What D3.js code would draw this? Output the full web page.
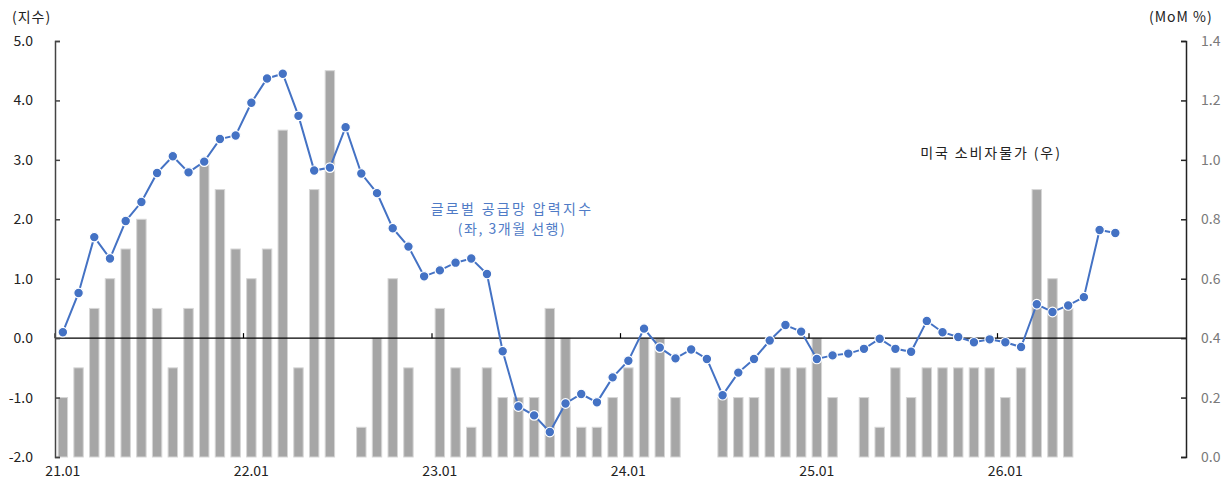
<!DOCTYPE html>
<html>
<head>
<meta charset="utf-8">
<script src="https://cdn.jsdelivr.net/npm/d3@7"></script>
<style>
  html, body { margin: 0; padding: 0; background: #fff; }
  svg { display: block; }
  text { font-family: "Noto Sans CJK KR", "Open Sans", sans-serif; }
</style>
</head>
<body>
<svg id="chart" width="1229" height="483"></svg>
<script>
// ---- data ----
const months = [];
for (let y = 21; y <= 26; y++) for (let m = 1; m <= 12; m++) months.push(y + "." + String(m).padStart(2, "0"));

const xTickLabels = ["21.01", "22.01", "23.01", "24.01", "25.01", "26.01"];
const leftTicks = [-2, -1, 0, 1, 2, 3, 4, 5];
const rightTicks = [0, 0.2, 0.4, 0.6, 0.8, 1.0, 1.2, 1.4];

// US CPI MoM % (right axis), 21.01 ..
const cpiValues = [0.2, 0.3, 0.5, 0.6, 0.7, 0.8, 0.5, 0.3, 0.5, 1.0, 0.9, 0.7,
                   0.6, 0.7, 1.1, 0.3, 0.9, 1.3, 0.0, 0.1, 0.4, 0.6, 0.3, 0.0,
                   0.5, 0.3, 0.1, 0.3, 0.2, 0.2, 0.2, 0.5, 0.4, 0.1, 0.1, 0.2,
                   0.3, 0.4, 0.4, 0.2, 0.0, 0.0, 0.2, 0.2, 0.2, 0.3, 0.3, 0.3,
                   0.4, 0.2, 0.0, 0.2, 0.1, 0.3, 0.2, 0.3, 0.3, 0.3, 0.3, 0.3,
                   0.2, 0.3, 0.9, 0.6, 0.5];

// Global supply chain pressure index (left axis, 3-month lead), 21.01 ..
const gscpiValues = [0.10, 0.76, 1.70, 1.34, 1.97, 2.29, 2.78, 3.06, 2.79, 2.97, 3.35, 3.41,
                     3.96, 4.37, 4.45, 3.74, 2.82, 2.87, 3.55, 2.77, 2.44, 1.85, 1.54, 1.04,
                     1.14, 1.27, 1.34, 1.08, -0.22, -1.15, -1.30, -1.58, -1.10, -0.94, -1.08, -0.66,
                     -0.38, 0.16, -0.16, -0.34, -0.19, -0.35, -0.96, -0.58, -0.35, -0.04, 0.22, 0.11,
                     -0.35, -0.29, -0.26, -0.18, -0.01, -0.18, -0.23, 0.29, 0.10, 0.02, -0.07, -0.02,
                     -0.07, -0.15, 0.57, 0.44, 0.55, 0.69, 1.82, 1.77];

// ---- layout ----
const svg = d3.select("#chart");
const mLeft = 55, mRight = 1186, mTop = 41, mBottom = 457;

const x = d3.scaleBand().domain(months).range([mLeft, mRight]).paddingInner(0).paddingOuter(0);
const yL = d3.scaleLinear().domain([-2, 5]).range([mBottom, mTop]);
const yR = d3.scaleLinear().domain([0, 1.4]).range([mBottom, mTop]);

const barW = x.bandwidth() * 0.6;
const fmt = d => d.toFixed(1);

// bars
svg.append("g").selectAll("rect")
  .data(cpiValues.map((v, i) => ({ m: months[i], v })))
  .join("rect")
  .attr("x", d => x(d.m) + (x.bandwidth() - barW) / 2)
  .attr("width", barW)
  .attr("y", d => yR(d.v))
  .attr("height", d => yR(0) - yR(d.v))
  .attr("fill", d => d.v > 0 ? "#a6a6a6" : "none")
  .attr("stroke", d => d.v > 0 ? "#d6d6d6" : "none")
  .attr("stroke-width", 1);

// zero line (x-axis at 0 of left scale)
svg.append("line")
  .attr("x1", mLeft).attr("x2", mRight)
  .attr("y1", yL(0)).attr("y2", yL(0))
  .attr("stroke", "#000").attr("stroke-width", 1.2);

// x ticks (at January band boundaries, upward)
svg.append("g").selectAll("line")
  .data(xTickLabels)
  .join("line")
  .attr("x1", d => x(d)).attr("x2", d => x(d))
  .attr("y1", yL(0)).attr("y2", yL(0) - 5)
  .attr("stroke", "#000").attr("stroke-width", 1.2);

// x labels
svg.append("g").selectAll("text")
  .data(xTickLabels)
  .join("text")
  .attr("x", d => x(d) + x.bandwidth() / 2)
  .attr("y", 476)
  .attr("text-anchor", "middle")
  .attr("font-size", 14)
  .attr("fill", "#222")
  .text(d => d);

// left axis
const gL = svg.append("g").attr("transform", `translate(${mLeft},0)`)
  .call(d3.axisRight(yL).tickValues(leftTicks).tickSize(5).tickFormat(fmt));
gL.select(".domain").attr("stroke", "#444").attr("stroke-width", 1.5);
gL.selectAll(".tick line").attr("stroke", "#444").attr("stroke-width", 1.5);
gL.selectAll(".tick text")
  .attr("x", -22).attr("text-anchor", "end")
  .attr("font-size", 14).attr("fill", "#222")
  .attr("font-family", "'Noto Sans CJK KR', sans-serif");

// right axis
const gR = svg.append("g").attr("transform", `translate(${mRight},0)`)
  .call(d3.axisLeft(yR).tickValues(rightTicks).tickSize(5).tickFormat(fmt));
gR.select(".domain").attr("stroke", "#222").attr("stroke-width", 1.5);
gR.selectAll(".tick line").attr("stroke", "#222").attr("stroke-width", 1.5);
gR.selectAll(".tick text")
  .attr("x", 15).attr("text-anchor", "start")
  .attr("font-size", 14).attr("fill", "#7a7a7a")
  .attr("font-family", "'Noto Sans CJK KR', sans-serif");

// line
const pts = gscpiValues.map((v, i) => ({ m: months[i], v }));
const line = d3.line().x(d => x(d.m) + x.bandwidth() / 2).y(d => yL(d.v));
svg.append("path")
  .datum(pts)
  .attr("d", line)
  .attr("fill", "none")
  .attr("stroke", "#4472c4")
  .attr("stroke-width", 2);
svg.append("g").selectAll("circle")
  .data(pts)
  .join("circle")
  .attr("cx", d => x(d.m) + x.bandwidth() / 2)
  .attr("cy", d => yL(d.v))
  .attr("r", 4.8)
  .attr("fill", "#4472c4")
  .attr("stroke", "#fff")
  .attr("stroke-width", 1.2);

// axis titles
svg.append("text").attr("x", 12).attr("y", 22).attr("font-size", 14).attr("letter-spacing", 1).attr("fill", "#222").text("(지수)");
svg.append("text").attr("x", 1149).attr("y", 22).attr("font-size", 14).attr("letter-spacing", 1).attr("fill", "#222").text("(MoM %)");

// annotations
svg.append("text").attr("x", 512).attr("y", 214).attr("text-anchor", "middle")
  .attr("font-size", 14).attr("letter-spacing", 2.3).attr("fill", "#4f7bc6").text("글로벌 공급망 압력지수");
svg.append("text").attr("x", 512).attr("y", 234).attr("text-anchor", "middle")
  .attr("font-size", 14).attr("letter-spacing", 1.5).attr("fill", "#4f7bc6").text("(좌, 3개월 선행)");
svg.append("text").attr("x", 991).attr("y", 158).attr("text-anchor", "middle")
  .attr("font-size", 14).attr("letter-spacing", 1.9).attr("fill", "#222").text("미국 소비자물가 (우)");
</script>
</body>
</html>
